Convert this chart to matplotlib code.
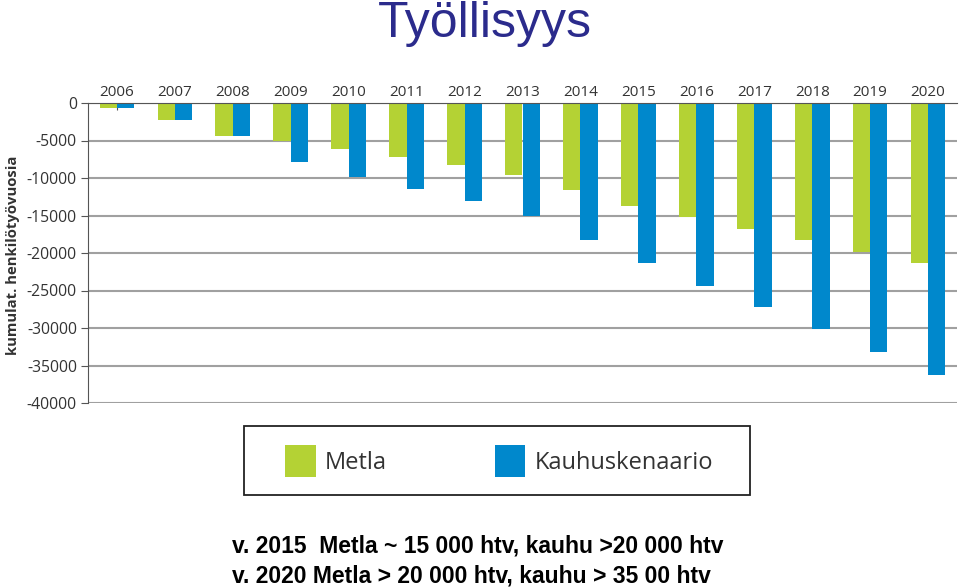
import numpy as np
import matplotlib.pyplot as plt
from matplotlib.patches import Rectangle

# Kumulatiiviset henkilötyövuodet vuosittain
years = ['2006', '2007', '2008', '2009', '2010', '2011', '2012', '2013',
         '2014', '2015', '2016', '2017', '2018', '2019', '2020']
metla = [-700, -2300, -4450, -5100, -6150, -7250, -8300, -9600,
         -11550, -13700, -15150, -16800, -18200, -19800, -21350]
kauhu = [-700, -2300, -4450, -7900, -9850, -11400, -13100, -15000,
         -18200, -21350, -24350, -27250, -30100, -33250, -36200]
y_ticks = [0, -5000, -10000, -15000, -20000, -25000, -30000, -35000, -40000]

green = '#b4d234'
blue = '#0088cc'

fig = plt.figure(figsize=(9.6, 5.87), dpi=100)
ax = fig.add_axes([88 / 960, 1 - 403 / 587, 869 / 960, 300 / 587])

x = np.arange(len(years))
w = 0.3
b1 = ax.bar(x - w / 2, metla, width=w, color=green, label='Metla', zorder=3)
b2 = ax.bar(x + w / 2, kauhu, width=w, color=blue, label='Kauhuskenaario', zorder=3)

ax.set_xlim(-0.5, len(years) - 0.5)
ax.set_ylim(-40000, 0)
ax.set_yticks(y_ticks)
ax.set_yticklabels([str(v) for v in y_ticks])
ax.set_xticks(x)
ax.set_xticklabels(years)
ax.xaxis.tick_top()
ax.tick_params(axis='x', direction='in', length=5, color='#555555',
               labelsize=11, labelcolor='#333333', pad=2)
ax.tick_params(axis='y', direction='out', length=5, color='#555555',
               labelsize=11.3, labelcolor='#333333', pad=3)
for lbl in ax.get_xticklabels() + ax.get_yticklabels():
    lbl.set_family('Open Sans')

ax.grid(axis='y', color='#a0a0a0', linewidth=1.5, zorder=0)
for s in ['right', 'bottom']:
    ax.spines[s].set_visible(False)
ax.spines['top'].set_color('#555555')
ax.spines['left'].set_color('#555555')
ax.spines['top'].set_zorder(4)

fig.text(13 / 960, 1 - 255 / 587, 'kumulat. henkilötyövuosia', rotation=90,
         ha='center', va='center', fontsize=10.7, fontweight='bold',
         family='Open Sans', color='#333333')

# otsikko
fig.text(485 / 960, 1 - 37 / 587, 'Työllisyys', ha='center', va='baseline',
         fontsize=36, family='Liberation Sans', color='#2b2b8c')

# selitelaatikko
fig.patches.append(Rectangle((244 / 960, 1 - 495 / 587), 506 / 960, 69 / 587,
                             transform=fig.transFigure, fill=False,
                             edgecolor='#222222', linewidth=1.3))
leg = fig.legend(handles=[b1, b2], loc='center left',
                 bbox_to_anchor=(285 / 960, 1 - 461 / 587),
                 ncol=2, frameon=False,
                 prop={'family': 'Open Sans', 'size': 17},
                 handlelength=1.3, handleheight=1.75, handletextpad=0.4,
                 borderpad=0, borderaxespad=0, columnspacing=4.55)
for t in leg.get_texts():
    t.set_color('#333333')

fig.text(232 / 960, 1 - 552 / 587, 'v. 2015  Metla ~ 15 000 htv, kauhu >20 000 htv',
         ha='left', va='baseline', fontsize=16.5, fontweight='bold',
         family='Liberation Sans', color='black')
fig.text(232 / 960, 1 - 582 / 587, 'v. 2020 Metla > 20 000 htv, kauhu > 35 00 htv',
         ha='left', va='baseline', fontsize=16.5, fontweight='bold',
         family='Liberation Sans', color='black')

fig.savefig('out.png', dpi=100)
